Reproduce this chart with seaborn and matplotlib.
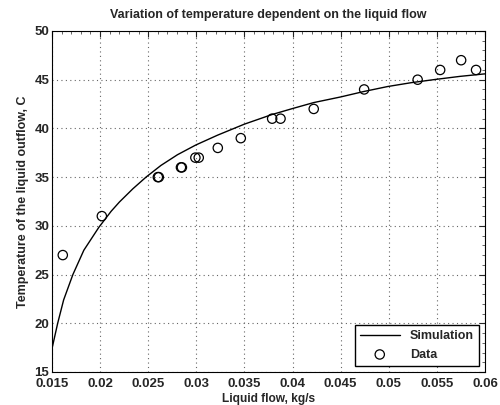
import matplotlib
matplotlib.use("Agg")
import matplotlib.pyplot as plt
import pandas as pd
import seaborn as sns
from matplotlib.ticker import AutoMinorLocator

# simulation curve
sim_flow = [0.0150, 0.01559, 0.01621, 0.01717, 0.01831, 0.01987, 0.02115, 0.02201,
            0.02340, 0.02477, 0.02632, 0.02804, 0.02995, 0.03219, 0.0350, 0.03788,
            0.0400, 0.04219, 0.0450, 0.04737, 0.04989, 0.05237, 0.05487,
            0.05739, 0.0600]
sim_temp = [17.4, 20.0, 22.4, 25.0, 27.5, 29.85, 31.5, 32.45,
            33.8, 35.0, 36.2, 37.3, 38.3, 39.3, 40.44, 41.43,
            42.04, 42.65, 43.23, 43.78, 44.3, 44.7, 45.03,
            45.34, 45.6]

# measured points
data_flow = [0.01612, 0.02018, 0.0260, 0.0261, 0.0284, 0.0285, 0.0299, 0.03025,
             0.03223, 0.03462, 0.03788, 0.03875, 0.0422, 0.04744, 0.0530,
             0.05534, 0.05752, 0.05907]
data_temp = [27, 31, 35, 35, 36, 36, 37, 37,
             38, 39, 41, 41, 42, 44, 45,
             46, 47, 46]

x_ticks = [0.015, 0.02, 0.025, 0.03, 0.035, 0.04, 0.045, 0.05, 0.055, 0.06]
x_labels = ["0.015", "0.02", "0.025", "0.03", "0.035", "0.04", "0.045", "0.05", "0.055", "0.06"]
y_ticks = [15, 20, 25, 30, 35, 40, 45, 50]


def main():
    sns.set_style("white")
    plt.rcParams["font.family"] = ["Liberation Sans", "DejaVu Sans"]
    plt.rcParams["font.weight"] = "bold"

    sim = pd.DataFrame({"flow": sim_flow, "temp": sim_temp})
    meas = pd.DataFrame({"flow": data_flow, "temp": data_temp})

    fig = plt.figure(figsize=(5.0, 4.05), dpi=100)
    ax = fig.add_axes([0.104, 0.0815, 0.866, 0.842])

    sns.lineplot(data=sim, x="flow", y="temp", ax=ax, color="black",
                 linewidth=1.0, label="Simulation", sort=False)
    sns.scatterplot(data=meas, x="flow", y="temp", ax=ax, marker="o",
                    facecolor="none", edgecolor="black", linewidth=0.9,
                    s=45, label="Data")

    ax.set_xlim(0.015, 0.06)
    ax.set_ylim(15, 50)
    ax.set_xticks(x_ticks)
    ax.set_xticklabels(x_labels)
    ax.set_yticks(y_ticks)
    ax.yaxis.set_minor_locator(AutoMinorLocator(5))
    ax.xaxis.set_minor_locator(AutoMinorLocator(5))
    ax.tick_params(which="major", direction="in", length=4, width=0.8,
                   labelsize=9.5, pad=2, top=True, right=True)
    ax.tick_params(axis="x", which="major", pad=4.5)
    ax.tick_params(which="minor", direction="in", length=2, width=0.5,
                   top=True, right=True)
    for lab in ax.get_xticklabels() + ax.get_yticklabels():
        lab.set_fontweight("bold")

    ax.grid(True, which="major", linestyle=(0, (1, 3)), color="#666666", linewidth=0.8)
    for sp in ax.spines.values():
        sp.set_color("black")
        sp.set_linewidth(0.8)

    ax.set_title("Variation of temperature dependent on the liquid flow",
                 fontsize=9, fontweight="bold", pad=9)
    ax.set_xlabel("Liquid flow, kg/s", fontsize=8.6, fontweight="bold", labelpad=2)
    ax.set_ylabel("Temperature of the liquid outflow, C", fontsize=9,
                  fontweight="bold", labelpad=4)

    leg = ax.legend(loc="lower right", fontsize=9, frameon=True, fancybox=False,
                    borderaxespad=0.5, handlelength=3.2, edgecolor="black",
                    framealpha=1)
    leg.get_frame().set_linewidth(1.0)
    for t in leg.get_texts():
        t.set_fontweight("bold")

    fig.savefig("out.png", dpi=100)
    plt.close(fig)


if __name__ == "__main__":
    main()
